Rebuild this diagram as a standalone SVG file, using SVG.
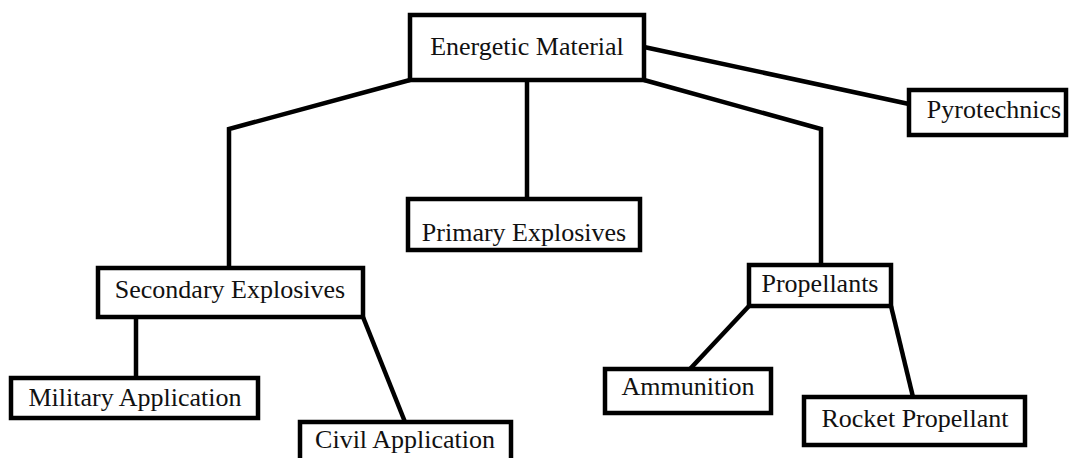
<svg xmlns="http://www.w3.org/2000/svg" width="1070" height="458" viewBox="0 0 1070 458">
<style>
.box{fill:#fff;stroke:#000;stroke-width:4.5}
.lbl{font-family:"Liberation Serif","Times New Roman",serif;font-size:26px;fill:#111;text-anchor:middle}
.con{fill:none;stroke:#000;stroke-width:4.5;stroke-linejoin:miter}
</style>
<rect width="1070" height="458" fill="#fff"/>
<g id="connectors">
<polyline class="con" points="410,80 229,129 229,268"/>
<polyline class="con" points="527,80 527,199"/>
<polyline class="con" points="644,80 821,129 821,265"/>
<polyline class="con" points="644,47 909,104"/>
<polyline class="con" points="136,317 136,378"/>
<polyline class="con" points="363,317 405,422"/>
<polyline class="con" points="749,306 690,369"/>
<polyline class="con" points="891,306 913,397"/>
</g>
<g id="energetic-material"><rect class="box" x="410" y="15" width="234" height="65"/><text class="lbl" x="527" y="55">Energetic Material</text></g>
<g id="pyrotechnics"><rect class="box" x="909" y="90" width="157" height="45"/><text class="lbl" x="994" y="118">Pyrotechnics</text></g>
<g id="primary-explosives"><rect class="box" x="408" y="199" width="232" height="51"/><text class="lbl" x="524" y="241">Primary Explosives</text></g>
<g id="secondary-explosives"><rect class="box" x="98" y="268" width="265" height="49"/><text class="lbl" x="230" y="298">Secondary Explosives</text></g>
<g id="propellants"><rect class="box" x="749" y="265" width="142" height="41"/><text class="lbl" x="820" y="292">Propellants</text></g>
<g id="military-application"><rect class="box" x="11" y="378" width="247" height="40"/><text class="lbl" x="135" y="406">Military Application</text></g>
<g id="civil-application"><rect class="box" x="300" y="422" width="211" height="50"/><text class="lbl" x="405" y="448">Civil Application</text></g>
<g id="ammunition"><rect class="box" x="605" y="369" width="166" height="44"/><text class="lbl" x="688" y="395">Ammunition</text></g>
<g id="rocket-propellant"><rect class="box" x="804" y="397" width="221" height="48"/><text class="lbl" x="915" y="427">Rocket Propellant</text></g>
</svg>
